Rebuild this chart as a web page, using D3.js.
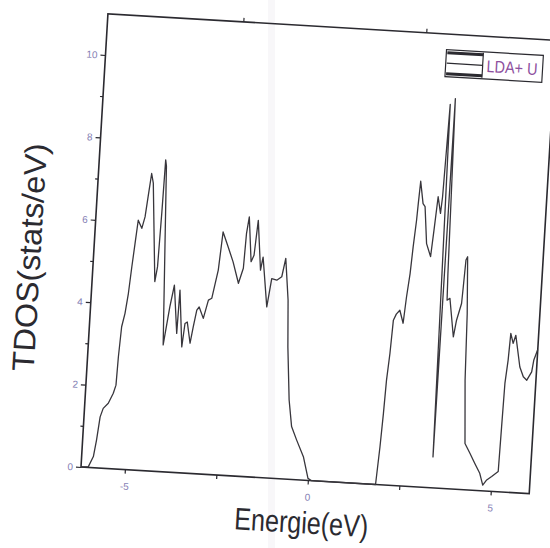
<!DOCTYPE html>
<html>
<head>
<meta charset="utf-8">
<script src="https://cdn.jsdelivr.net/npm/d3@7"></script>
<style>
  html, body { margin: 0; padding: 0; background: #fff; }
  svg { display: block; }
</style>
</head>
<body>
<svg id="chart" width="550" height="548"></svg>
<script>
// Total density of states, LDA+U
const energy = [
  -6.20, -6.00, -5.88, -5.82, -5.76, -5.69, -5.56, -5.44, -5.38, -5.36,
  -5.32, -5.25, -5.19, -5.14, -5.09, -5.04, -4.93, -4.86, -4.81, -4.75,
  -4.69, -4.49, -4.44, -4.41, -4.39, -4.36, -4.16, -4.04, -3.95, -3.81,
  -3.79, -3.65, -3.60, -3.54, -3.43, -3.37, -3.30, -3.24, -3.11, -3.00,
  -2.91, -2.85, -2.78, -2.71, -2.55, -2.39, -2.21, -2.10, -2.07, -2.02,
  -1.90, -1.83, -1.77, -1.63, -1.58, -1.40, -1.31, -1.17, -1.04, -0.96,
  -0.83, -0.76, -0.64, -0.53, -0.37, -0.16, 0.00, 0.10, 1.85, 1.91,
  1.95, 1.98, 2.03, 2.07, 2.14, 2.23, 2.34, 2.39, 2.45, 2.49,
  2.54, 2.56, 2.59, 2.69, 2.75, 2.85, 2.98, 3.03, 3.09, 3.18,
  3.21, 3.27, 3.37, 3.40, 3.48, 3.50, 3.575, 3.73, 3.79, 3.90,
  3.92, 3.95, 3.99, 4.07, 4.12, 4.22, 4.37, 4.52, 4.67, 4.77,
  4.87, 5.00, 5.17, 5.19, 5.21, 5.26, 5.29, 5.37, 5.43, 5.59,
  5.70, 5.80, 5.92, 5.96, 6.05
];
const tdos = [
  0.00, 0.02, 0.27, 0.68, 1.24, 1.45, 1.58, 1.83, 2.03, 2.72,
  3.45, 3.78, 4.27, 4.91, 5.48, 6.05, 5.86, 6.14, 6.63, 7.20,
  6.97, 4.59, 4.95, 6.30, 7.55, 7.40, 3.07, 4.00, 4.53, 3.37,
  4.42, 3.05, 3.62, 3.66, 3.15, 3.55, 3.96, 4.04, 3.77, 4.22,
  4.27, 4.59, 4.96, 5.89, 5.54, 5.18, 4.67, 5.04, 5.89, 6.29,
  5.21, 5.37, 6.22, 5.02, 5.34, 4.14, 4.83, 4.80, 4.89, 5.34,
  4.33, 3.20, 1.92, 1.28, 0.96, 0.57, 0.05, 0.00, 0.00, 0.92,
  1.73, 2.54, 3.19, 4.00, 4.15, 4.25, 3.94, 4.58, 5.15, 5.80,
  6.45, 6.86, 7.40, 6.86, 6.79, 5.90, 5.59, 6.23, 7.05, 6.65,
  7.05, 9.30, 0.75, 9.45, 5.20, 4.56, 4.61, 3.68, 4.09, 4.50,
  4.91, 5.56, 5.64, 4.27, 2.65, 1.12, 0.89, 0.65, 0.42, 0.14,
  0.27, 0.36, 0.49, 1.58, 2.63, 3.20, 3.85, 3.61, 3.81, 3.05,
  2.82, 2.74, 2.95, 3.24, 3.50
];

const xMajorTicks = [-5, 0, 5];
const xMinorTicks = [-2.5, 2.5];
const yMajorTicks = [0, 2, 4, 6, 8, 10];
const yMinorTicks = [1, 3, 5, 7, 9];
const seriesName = "LDA+ U";
const xTitle = "Energie(eV)";
const yTitle = "TDOS(stats/eV)";

const W = 449, H = 454;
const FONT = "'Liberation Sans', Arial, Helvetica, sans-serif";
const INK = "#2b2a30";
const TICK_TEXT = "#8580b4";

const svg = d3.select("#chart");

// faint paper crease running down the sheet
svg.append("rect")
  .attr("x", 268).attr("y", 0).attr("width", 7).attr("height", 548)
  .attr("fill", "#efedf2").attr("opacity", 0.45);

// whole figure sits slightly tilted on the page
const g = svg.append("g").attr("transform", "translate(81,467) rotate(3.4)");

const x = d3.scaleLinear().domain([-6.2, 6.05]).range([0, W]);
const y = d3.scaleLinear().domain([0, 11]).range([0, -H]);

// bottom axis: labelled majors and unlabelled minors
g.append("g")
  .call(d3.axisBottom(x).tickValues(xMajorTicks).tickSize(4).tickPadding(9)
    .tickFormat(d => String(d)));
g.append("g")
  .call(d3.axisBottom(x).tickValues(xMinorTicks).tickSize(4).tickFormat(""));
// top axis minors
g.append("g").attr("transform", `translate(0,${-H})`)
  .call(d3.axisTop(x).tickValues(xMinorTicks).tickSize(4).tickFormat(""));

// left axis
g.append("g")
  .call(d3.axisLeft(y).tickValues(yMajorTicks).tickSize(5).tickPadding(3)
    .tickFormat(d => String(d)));
g.append("g")
  .call(d3.axisLeft(y).tickValues(yMinorTicks).tickSize(3).tickFormat(""));

g.selectAll(".domain").remove();
g.selectAll(".tick line").attr("stroke", INK).attr("stroke-width", 1.2);
g.selectAll(".tick text")
  .attr("fill", TICK_TEXT)
  .style("font-family", FONT)
  .style("font-size", "10px");

// plot frame
g.append("rect")
  .attr("x", x(-6.2)).attr("y", y(11))
  .attr("width", x(6.05) - x(-6.2)).attr("height", y(0) - y(11))
  .attr("fill", "none").attr("stroke", INK).attr("stroke-width", 1.6);

// curve
const line = d3.line()
  .x(i => x(energy[i]))
  .y(i => y(tdos[i]));
g.append("path")
  .datum(d3.range(energy.length))
  .attr("d", line)
  .attr("fill", "none")
  .attr("stroke", "#38363c")
  .attr("stroke-width", 1.3)
  .attr("stroke-linejoin", "round");

// legend
const lg = g.append("g").attr("transform", `translate(${x(3.08)},${y(10.62)})`);
lg.append("rect").attr("x", 0).attr("y", 0).attr("width", 97).attr("height", 27)
  .attr("fill", "#fff").attr("stroke", INK).attr("stroke-width", 1.2);
lg.append("line").attr("x1", 1).attr("x2", 37).attr("y1", 3).attr("y2", 3)
  .attr("stroke", INK).attr("stroke-width", 3);
lg.append("line").attr("x1", 1).attr("x2", 37).attr("y1", 13.5).attr("y2", 13.5)
  .attr("stroke", INK).attr("stroke-width", 1.3);
lg.append("line").attr("x1", 1).attr("x2", 37).attr("y1", 24).attr("y2", 24)
  .attr("stroke", INK).attr("stroke-width", 3);
lg.append("line").attr("x1", 37).attr("x2", 37).attr("y1", 1).attr("y2", 26)
  .attr("stroke", INK).attr("stroke-width", 1.2);
lg.append("text")
  .attr("x", 41).attr("y", 20)
  .attr("fill", "#8d4f9e")
  .attr("textLength", 51).attr("lengthAdjust", "spacingAndGlyphs")
  .style("font-family", FONT).style("font-size", "17px")
  .text(seriesName);

// axis titles
g.append("text")
  .attr("x", x(0) - 4).attr("y", 53)
  .attr("text-anchor", "middle")
  .attr("fill", INK)
  .attr("textLength", 134).attr("lengthAdjust", "spacingAndGlyphs")
  .style("font-family", FONT).style("font-size", "31px")
  .text(xTitle);

g.append("text")
  .attr("transform", `translate(-53,${y(5.0)}) rotate(-90)`)
  .attr("text-anchor", "middle")
  .attr("fill", INK)
  .attr("textLength", 228).attr("lengthAdjust", "spacingAndGlyphs")
  .style("font-family", FONT).style("font-size", "31px")
  .text(yTitle);
</script>
</body>
</html>
